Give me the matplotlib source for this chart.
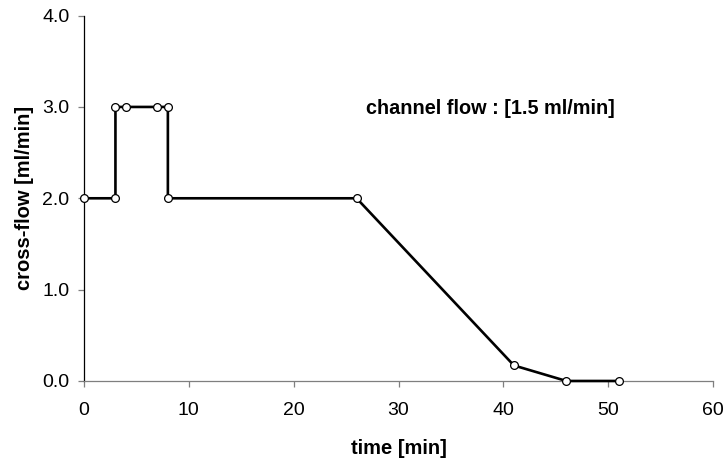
import matplotlib
matplotlib.use("Agg")
import matplotlib.pyplot as plt

# Cross-flow program over the run
time_min = [0, 3, 3, 4, 7, 8, 8, 26, 41, 46, 51]
cross_flow = [2.0, 2.0, 3.0, 3.0, 3.0, 3.0, 2.0, 2.0, 0.17, 0.0, 0.0]

x_ticks = [0, 10, 20, 30, 40, 50, 60]
y_ticks = [0.0, 1.0, 2.0, 3.0, 4.0]
y_tick_labels = ["0.0", "1.0", "2.0", "3.0", "4.0"]

plt.rcParams["font.family"] = ["Liberation Sans", "DejaVu Sans"]

fig = plt.figure(figsize=(7.24, 4.59), dpi=100)
ax = fig.add_axes([0.116, 0.170, 0.869, 0.796])

ax.plot(time_min, cross_flow, color="black", linewidth=1.9,
        marker="o", markersize=5.6, markerfacecolor="white",
        markeredgecolor="black", markeredgewidth=0.9, zorder=3,
        clip_on=False)

ax.set_xlim(0, 60)
ax.set_ylim(0, 4.0)
ax.set_xticks(x_ticks)
ax.set_yticks(y_ticks)
ax.set_yticklabels(y_tick_labels)

for side in ("top", "right"):
    ax.spines[side].set_visible(False)
ax.spines["left"].set_color("black")
ax.spines["bottom"].set_color("#7f7f7f")
ax.spines["left"].set_linewidth(0.9)
ax.spines["bottom"].set_linewidth(0.9)
ax.tick_params(axis="x", direction="out", length=4.5, width=0.9, color="#7f7f7f",
               labelsize=14, pad=11)
ax.tick_params(axis="y", direction="out", length=4.5, width=0.9, color="#7f7f7f",
               labelsize=14, pad=6)

ax.set_xlabel("time [min]", fontsize=14.5, fontweight="bold", labelpad=14)
ax.set_ylabel("cross-flow [ml/min]", fontsize=14.5, fontweight="bold", labelpad=6)

ax.text(26.9, 2.98, "channel flow : [1.5 ml/min]", fontsize=14.3,
        fontweight="bold", ha="left", va="center")

fig.savefig("out.png", dpi=100)
